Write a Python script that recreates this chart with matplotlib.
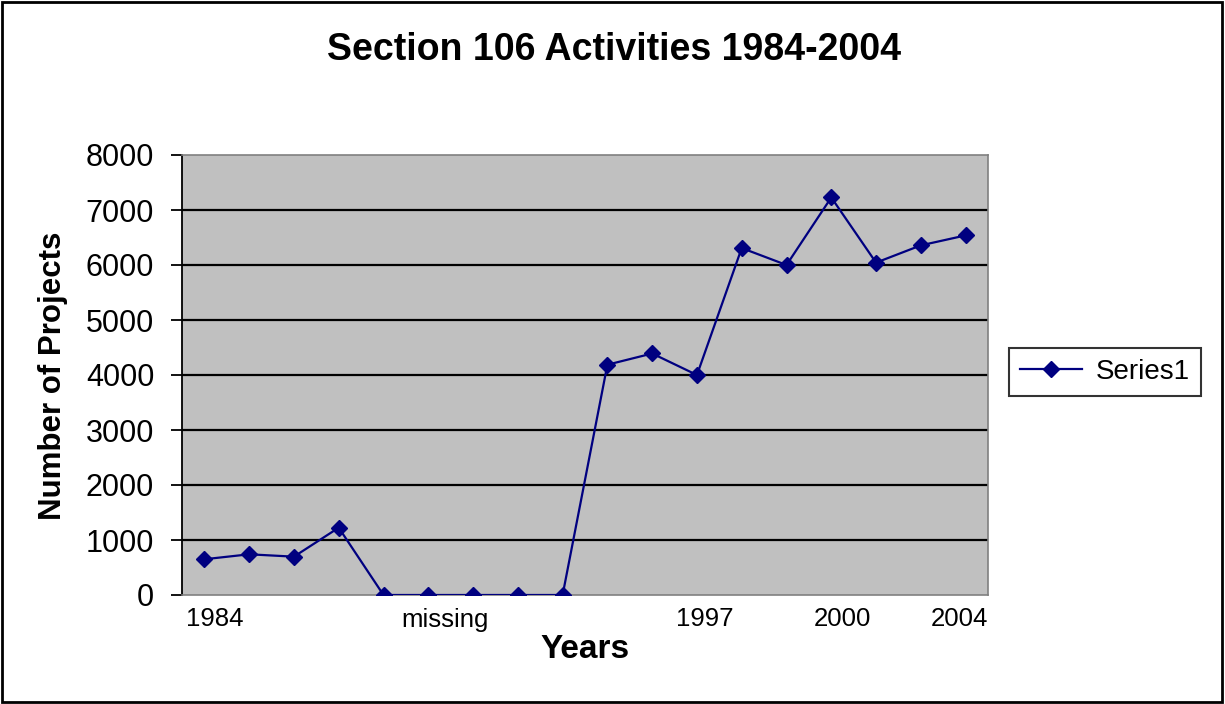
import matplotlib.pyplot as plt
from matplotlib.patches import Rectangle

plt.rcParams['font.family'] = ['Liberation Sans', 'DejaVu Sans']

# Section 106 project counts, one point per category (gap years recorded as 0)
values = [650, 740, 697, 1224, 0, 0, 0, 0, 0,
          4187, 4391, 4000, 6308, 6000, 7228, 6043, 6357, 6538]
categories = list(range(len(values)))
tick_labels = ['1984', 'missing', '1997', '2000', '2004']
tick_pos = [0.24, 5.37, 11.17, 14.25, 16.86]
y_ticks = [0, 1000, 2000, 3000, 4000, 5000, 6000, 7000, 8000]

navy = '#000080'

fig = plt.figure(figsize=(12.25, 7.04), dpi=100)
ax = fig.add_axes([182 / 1225, 1 - 595 / 704, 806 / 1225, 440 / 704])
ax.set_facecolor('#C0C0C0')

for yv in y_ticks[1:-1]:
    ax.axhline(yv, color='black', lw=1.6, zorder=1)

ax.plot(categories, values, color=navy, lw=1.6, marker='D', markersize=8,
        markerfacecolor=navy, markeredgecolor=navy, label='Series1', zorder=3)

ax.set_xlim(-0.5, len(values) - 0.5)
ax.set_ylim(0, 8000)
ax.set_yticks(y_ticks)
ax.set_yticklabels([str(v) for v in y_ticks], fontsize=22)
ax.tick_params(axis='y', direction='out', length=8, width=1.3, pad=12, color='black')
ax.set_xticks(tick_pos)
ax.set_xticklabels(tick_labels, fontsize=18.5)
ax.tick_params(axis='x', length=0, pad=9)

for s in ['top', 'right', 'bottom']:
    ax.spines[s].set_color('#808080')
    ax.spines[s].set_linewidth(1.2)
ax.spines['left'].set_color('black')
ax.spines['left'].set_linewidth(1.3)

fig.text(614 / 1225, 1 - 50 / 704, 'Section 106 Activities 1984-2004', ha='center', va='center',
         fontsize=27, fontweight='bold')
fig.text(585 / 1225, 1 - 649 / 704, 'Years', ha='center', va='center',
         fontsize=24, fontweight='bold')
fig.text(53 / 1225, 1 - 376 / 704, 'Number of Projects', ha='center', va='center',
         rotation=90, fontsize=22.5, fontweight='bold')

leg = fig.legend(loc='center', bbox_to_anchor=(1105 / 1225, 1 - 372 / 704), fontsize=20,
                 frameon=True, fancybox=False, edgecolor='black', handlelength=2.2,
                 borderpad=0.4, handletextpad=0.5, borderaxespad=0)
leg.get_frame().set_linewidth(1.5)

fig.patches.append(Rectangle((2 / 1225, 2 / 704), 1220 / 1225, 700 / 704,
                             transform=fig.transFigure, fill=False,
                             edgecolor='black', lw=2))

fig.savefig('out.png', dpi=100)
